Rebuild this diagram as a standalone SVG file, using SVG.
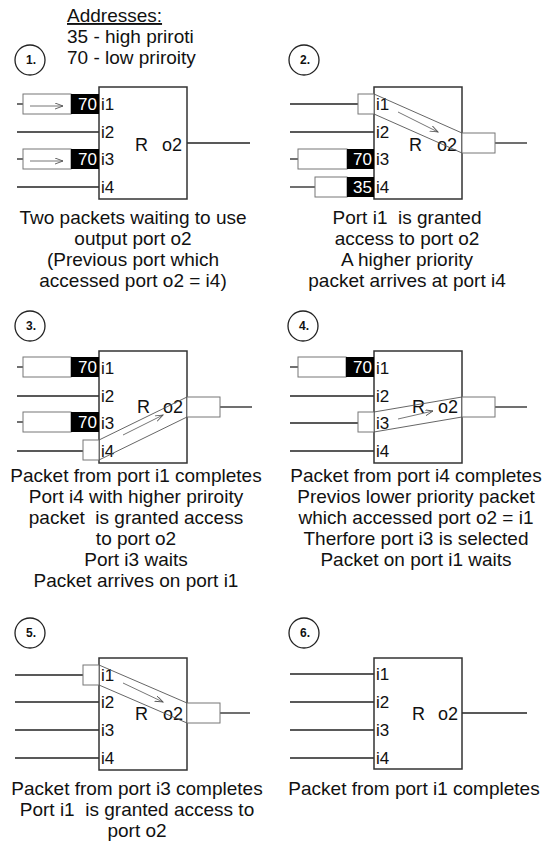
<svg xmlns="http://www.w3.org/2000/svg" width="551" height="841" viewBox="0 0 551 841">
<style>
text{font-family:"Liberation Sans",Arial,sans-serif;fill:#111;white-space:pre}
.cap{font-size:19px;text-anchor:middle}
.hdr{font-size:19px}
.port{font-size:17px}
.ro{font-size:18px}
.num{font-size:17px;fill:#fff;text-anchor:end}
.step{font-size:12px;font-weight:bold;text-anchor:middle}
.router{fill:#fff;stroke:#333;stroke-width:1.5}
.wire{stroke:#222;stroke-width:1.3;fill:none}
.pkt{fill:#fff;stroke:#777;stroke-width:1}
.blk{fill:#000}
.chan{stroke:#555;stroke-width:0.9;fill:none}
.flow{stroke:#666;stroke-width:0.9;fill:none;marker-end:url(#ah)}
.circ{fill:#fff;stroke:#222;stroke-width:1.3}
</style>
<defs>
<marker id="ah" markerUnits="userSpaceOnUse" markerWidth="10" markerHeight="8" refX="8" refY="3" orient="auto">
<path d="M0,0 L8,3 L0,6" fill="none" stroke="#555" stroke-width="0.9"/>
</marker>
</defs>

<g id="legend">
<text class="hdr" x="67" y="22" text-decoration="underline">Addresses:</text>
<text class="hdr" x="67" y="43">35 - high priroti</text>
<text class="hdr" x="67" y="64">70 - low priroity</text>
</g>

<g id="steps">
<g id="step1"><circle class="circ" cx="30" cy="60" r="15"/><text class="step" x="31" y="64">1.</text></g>
<g id="step2"><circle class="circ" cx="304" cy="60" r="15"/><text class="step" x="305" y="64">2.</text></g>
<g id="step3"><circle class="circ" cx="30" cy="326" r="15"/><text class="step" x="31" y="330">3.</text></g>
<g id="step4"><circle class="circ" cx="303" cy="326" r="15"/><text class="step" x="304" y="330">4.</text></g>
<g id="step5"><circle class="circ" cx="30" cy="633" r="15"/><text class="step" x="31" y="637">5.</text></g>
<g id="step6"><circle class="circ" cx="304" cy="633" r="15"/><text class="step" x="305" y="637">6.</text></g>
</g>

<!-- Panel 1 -->
<g id="panel1">
<g id="p1-connectors">
<line class="wire" x1="17" y1="104" x2="23" y2="104"/>
<line class="wire" x1="17" y1="132" x2="99" y2="132"/>
<line class="wire" x1="17" y1="159" x2="23" y2="159"/>
<line class="wire" x1="17" y1="187" x2="99" y2="187"/>
<line class="wire" x1="187" y1="143" x2="250" y2="143"/>
</g>
<g id="p1-router"><rect class="router" x="99" y="87" width="88" height="112"/>
<text class="port" x="101" y="110">i1</text><text class="port" x="101" y="138">i2</text><text class="port" x="101" y="165">i3</text><text class="port" x="101" y="193">i4</text>
<text class="ro" x="135" y="151">R</text><text class="ro" x="162" y="151">o2</text></g>
<g id="p1-pkt1"><rect class="pkt" x="23" y="94" width="48" height="20"/><rect class="blk" x="71" y="94" width="28" height="20"/><text class="num" x="97" y="110">70</text><line class="flow" x1="30" y1="106" x2="63" y2="106"/></g>
<g id="p1-pkt3"><rect class="pkt" x="23" y="149" width="48" height="20"/><rect class="blk" x="71" y="149" width="28" height="20"/><text class="num" x="97" y="165">70</text><line class="flow" x1="30" y1="161" x2="63" y2="161"/></g>
<g id="p1-caption">
<text class="cap" x="133" y="224">Two packets waiting to use</text>
<text class="cap" x="133" y="245">output port o2</text>
<text class="cap" x="133" y="266">(Previous port which</text>
<text class="cap" x="133" y="287">accessed port o2 = i4)</text>
</g>
</g>

<!-- Panel 2 -->
<g id="panel2">
<g transform="translate(275,0)">
<g id="p2-connectors">
<line class="wire" x1="15" y1="104" x2="83" y2="104"/>
<line class="wire" x1="15" y1="132" x2="99" y2="132"/>
<line class="wire" x1="15" y1="159" x2="23" y2="159"/>
<line class="wire" x1="15" y1="187" x2="40" y2="187"/>
<line class="wire" x1="220" y1="143" x2="252" y2="143"/>
</g>
<g id="p2-router"><rect class="router" x="99" y="87" width="88" height="112"/>
<text class="port" x="101" y="110">i1</text><text class="port" x="101" y="138">i2</text><text class="port" x="101" y="165">i3</text><text class="port" x="101" y="193">i4</text>
<text class="ro" x="134" y="151">R</text><text class="ro" x="162" y="151">o2</text></g>
<g id="p2-path"><rect class="pkt" x="83" y="94" width="16" height="20"/><rect class="pkt" x="187" y="133" width="33" height="20"/>
<line class="chan" x1="99" y1="94" x2="187" y2="133"/><line class="chan" x1="99" y1="114" x2="187" y2="153"/>
<line class="flow" x1="123" y1="112" x2="163" y2="132"/></g>
<g id="p2-pkt3"><rect class="pkt" x="23" y="149" width="49" height="20"/><rect class="blk" x="72" y="149" width="27" height="20"/><text class="num" x="97" y="165">70</text></g>
<g id="p2-pkt4"><rect class="pkt" x="40" y="177" width="32" height="20"/><rect class="blk" x="72" y="177" width="27" height="20"/><text class="num" x="97" y="193">35</text></g>
</g>
<g id="p2-caption">
<text class="cap" x="407" y="224">Port i1  is granted</text>
<text class="cap" x="407" y="245">access to port o2</text>
<text class="cap" x="407" y="266">A higher priority</text>
<text class="cap" x="407" y="287">packet arrives at port i4</text>
</g>
</g>

<!-- Panel 3 -->
<g id="panel3">
<g transform="translate(0,264)">
<g id="p3-connectors">
<line class="wire" x1="17" y1="103" x2="23" y2="103"/>
<line class="wire" x1="17" y1="132" x2="99" y2="132"/>
<line class="wire" x1="17" y1="158" x2="23" y2="158"/>
<line class="wire" x1="17" y1="187" x2="83" y2="187"/>
<line class="wire" x1="220" y1="143" x2="252" y2="143"/>
</g>
<g id="p3-router"><rect class="router" x="99" y="87" width="88" height="112"/>
<text class="port" x="101" y="110">i1</text><text class="port" x="101" y="138">i2</text><text class="port" x="101" y="165">i3</text><text class="port" x="101" y="193">i4</text>
<text class="ro" x="137" y="149">R</text><text class="ro" x="163" y="149">o2</text></g>
<g id="p3-pkt1"><rect class="pkt" x="23" y="93" width="48" height="20"/><rect class="blk" x="71" y="93" width="28" height="20"/><text class="num" x="97" y="109">70</text></g>
<g id="p3-pkt3"><rect class="pkt" x="23" y="148" width="48" height="20"/><rect class="blk" x="71" y="148" width="28" height="20"/><text class="num" x="97" y="164">70</text></g>
<g id="p3-path"><rect class="pkt" x="83" y="176" width="16" height="20"/><rect class="pkt" x="187" y="133" width="33" height="20"/>
<line class="chan" x1="99" y1="176" x2="187" y2="133"/><line class="chan" x1="99" y1="196" x2="187" y2="153"/>
<line class="flow" x1="123" y1="171" x2="163" y2="151"/></g>
</g>
<g id="p3-caption">
<text class="cap" x="136" y="482">Packet from port i1 completes</text>
<text class="cap" x="136" y="503">Port i4 with higher priroity</text>
<text class="cap" x="136" y="524">packet  is granted access</text>
<text class="cap" x="136" y="545">to port o2</text>
<text class="cap" x="136" y="566">Port i3 waits</text>
<text class="cap" x="136" y="587">Packet arrives on port i1</text>
</g>
</g>

<!-- Panel 4 -->
<g id="panel4">
<g transform="translate(275,264)">
<g id="p4-connectors">
<line class="wire" x1="15" y1="103" x2="23" y2="103"/>
<line class="wire" x1="15" y1="132" x2="99" y2="132"/>
<line class="wire" x1="15" y1="159" x2="83" y2="159"/>
<line class="wire" x1="15" y1="187" x2="99" y2="187"/>
<line class="wire" x1="220" y1="143" x2="252" y2="143"/>
</g>
<g id="p4-router"><rect class="router" x="99" y="87" width="88" height="112"/>
<text class="port" x="101" y="110">i1</text><text class="port" x="101" y="138">i2</text><text class="port" x="101" y="165">i3</text><text class="port" x="101" y="193">i4</text>
<text class="ro" x="137" y="149">R</text><text class="ro" x="163" y="149">o2</text></g>
<g id="p4-pkt1"><rect class="pkt" x="23" y="93" width="48" height="20"/><rect class="blk" x="71" y="93" width="28" height="20"/><text class="num" x="97" y="109">70</text></g>
<g id="p4-path"><rect class="pkt" x="83" y="148" width="16" height="20"/><rect class="pkt" x="187" y="133" width="33" height="20"/>
<line class="chan" x1="99" y1="148" x2="187" y2="133"/><line class="chan" x1="99" y1="168" x2="187" y2="153"/>
<line class="flow" x1="123" y1="155" x2="158" y2="147"/></g>
</g>
<g id="p4-caption">
<text class="cap" x="416" y="482">Packet from port i4 completes</text>
<text class="cap" x="416" y="503">Previos lower priority packet</text>
<text class="cap" x="416" y="524">which accessed port o2 = i1</text>
<text class="cap" x="416" y="545">Therfore port i3 is selected</text>
<text class="cap" x="416" y="566">Packet on port i1 waits</text>
</g>
</g>

<!-- Panel 5 -->
<g id="panel5">
<g transform="translate(0,571)">
<g id="p5-connectors">
<line class="wire" x1="15" y1="104" x2="83" y2="104"/>
<line class="wire" x1="15" y1="131" x2="99" y2="131"/>
<line class="wire" x1="15" y1="159" x2="99" y2="159"/>
<line class="wire" x1="15" y1="187" x2="99" y2="187"/>
<line class="wire" x1="220" y1="142" x2="250" y2="142"/>
</g>
<g id="p5-router"><rect class="router" x="99" y="87" width="88" height="112"/>
<text class="port" x="101" y="110">i1</text><text class="port" x="101" y="137">i2</text><text class="port" x="101" y="165">i3</text><text class="port" x="101" y="193">i4</text>
<text class="ro" x="135" y="149">R</text><text class="ro" x="163" y="149">o2</text></g>
<g id="p5-path"><rect class="pkt" x="83" y="94" width="16" height="20"/><rect class="pkt" x="187" y="132" width="33" height="20"/>
<line class="chan" x1="99" y1="94" x2="187" y2="132"/><line class="chan" x1="99" y1="114" x2="187" y2="152"/>
<line class="flow" x1="123" y1="112" x2="163" y2="131"/></g>
</g>
<g id="p5-caption">
<text class="cap" x="137" y="795">Packet from port i3 completes</text>
<text class="cap" x="137" y="816">Port i1  is granted access to</text>
<text class="cap" x="137" y="837">port o2</text>
</g>
</g>

<!-- Panel 6 -->
<g id="panel6">
<g transform="translate(275,571)">
<g id="p6-connectors">
<line class="wire" x1="15" y1="103" x2="99" y2="103"/>
<line class="wire" x1="15" y1="131" x2="99" y2="131"/>
<line class="wire" x1="15" y1="159" x2="99" y2="159"/>
<line class="wire" x1="15" y1="187" x2="99" y2="187"/>
<line class="wire" x1="187" y1="142" x2="252" y2="142"/>
</g>
<g id="p6-router"><rect class="router" x="99" y="87" width="88" height="111"/>
<text class="port" x="101" y="109">i1</text><text class="port" x="101" y="137">i2</text><text class="port" x="101" y="165">i3</text><text class="port" x="101" y="193">i4</text>
<text class="ro" x="137" y="149">R</text><text class="ro" x="163" y="149">o2</text></g>
</g>
<g id="p6-caption">
<text class="cap" x="414" y="795">Packet from port i1 completes</text>
</g>
</g>
</svg>
